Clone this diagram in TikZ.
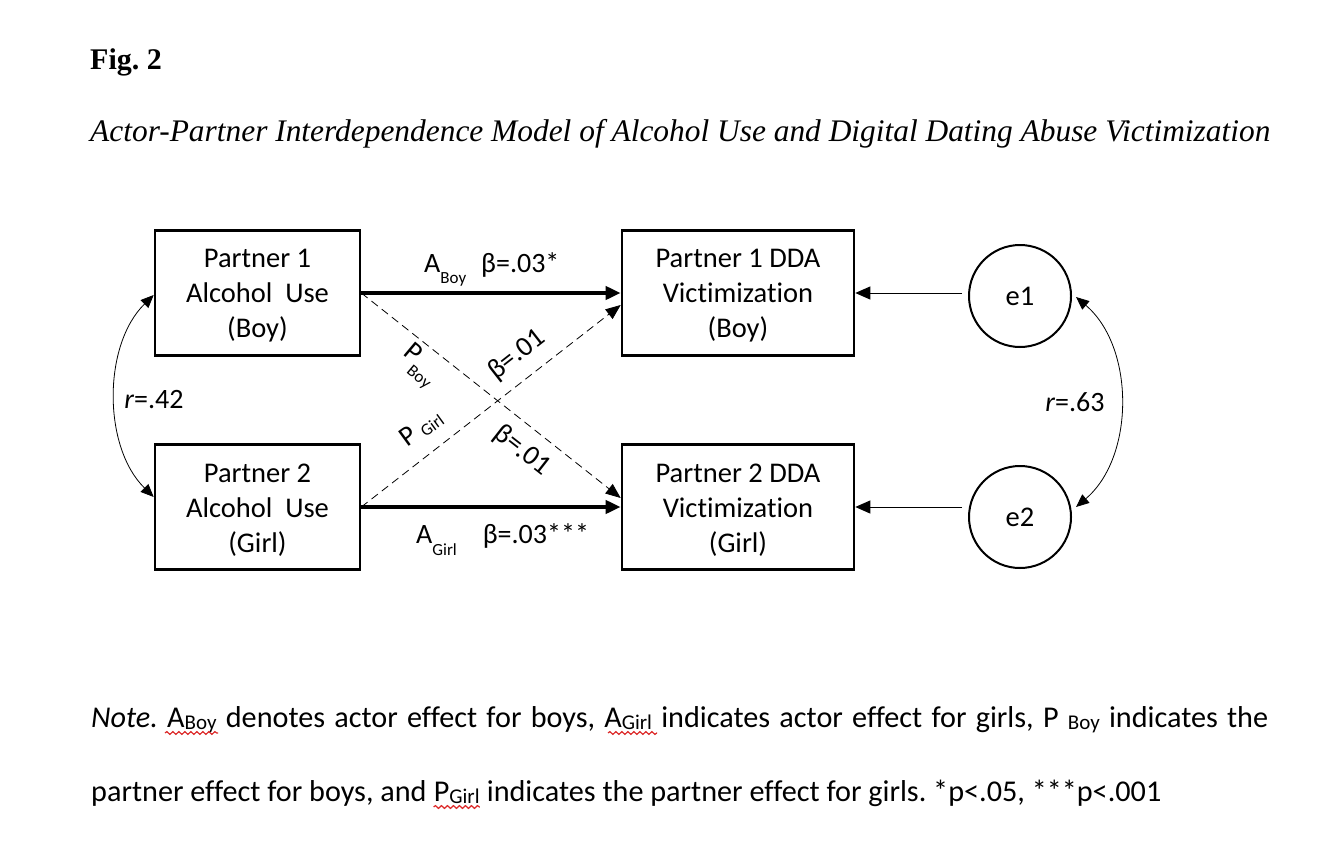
\documentclass[tikz,border=0pt]{standalone}
\usepackage{fontspec}
\setmainfont{Carlito}[Ligatures=NoCommon]
\newfontfamily\timesfont{Liberation Serif}
\usetikzlibrary{arrows.meta,decorations.pathmorphing}
\definecolor{squig}{RGB}{220,40,40}
\newcommand{\bx}{\fontsize{28.5}{35}\selectfont}
\newcommand{\lb}{\fontsize{28}{34}\selectfont}
\newcommand{\subfont}{\fontsize{17}{17}\selectfont}
\newcommand{\nsub}[1]{\raisebox{-2pt}{\fontsize{21}{21}\selectfont #1}}
\frenchspacing
\begin{document}
\begin{tikzpicture}[x=1pt,y=-1pt,
  box/.style={draw, line width=2.6pt, minimum width=205pt, minimum height=125pt, inner sep=0pt},
  dbox/.style={box, minimum width=232pt},
  inbox/.style={label={[font=\bx, align=center, yshift=-3pt]center:{#1}}},
  err/.style={draw, circle, line width=2pt, minimum size=102pt, font=\bx, inner sep=0pt},
  actor/.style={-{Triangle[length=15pt,width=13pt]}, line width=3.8pt},
  partner/.style={-{Triangle[length=15pt,width=12pt]}, line width=0.8pt, dash pattern=on 8pt off 5pt},
  thinarrow/.style={-{Triangle[length=15pt,width=13pt]}, line width=1pt},
  corr/.style={{Triangle[length=13pt,width=11pt]}-{Triangle[length=13pt,width=11pt]}, line width=0.8pt},
  lbl/.style={font=\lb, inner sep=0pt},
  note/.style={anchor=base west, inner sep=0pt, font=\fontsize{30.2}{36}\selectfont},
  squiggle/.style={squig, line width=1.2pt, decorate, decoration={snake, amplitude=1.4pt, segment length=6pt}}
]
\useasboundingbox (0,0) rectangle (1322,856);

% titles
\node[anchor=base west, inner sep=0pt, font=\timesfont\bfseries\fontsize{30}{36}\selectfont] (fig) at (90,70) {Fig. 2};
\node[anchor=base west, inner sep=0pt, font=\timesfont\itshape\fontsize{31.4}{36}\selectfont] (ttl) at (90,142) {Actor-Partner Interdependence Model of Alcohol Use and Digital Dating Abuse Victimization};

% boxes
\node[box, inbox={Partner 1\\Alcohol\ \ Use\\(Boy)}] (a1) at (257.5,293) {};
\node[box, inbox={Partner 2\\Alcohol\ \ Use\\(Girl)}] (a2) at (257.5,507) {};
\node[dbox, inbox={Partner 1 DDA\\Victimization\\(Boy)}] (v1) at (738,293) {};
\node[dbox, inbox={Partner 2 DDA\\Victimization\\(Girl)}] (v2) at (738,507) {};
\node[err] (e1) at (1020,296) {e1};
\node[err] (e2) at (1020,517) {e2};

% actor paths
\draw[actor] (a1.east) -- (v1.west);
\draw[actor] (a2.east) -- (v2.west);
% partner paths
\draw[partner] (a1.east) -- ([yshift=9pt]v2.west);
\draw[partner] (a2.east) -- ([yshift=-12pt]v1.west);
% error paths
\draw[thinarrow] ([xshift=-6pt]e1.west |- v1.east) -- (v1.east);
\draw[thinarrow] ([xshift=-6pt]e2.west |- v2.east) -- (v2.east);
% correlations
\draw[corr] ([yshift=-2pt]a1.west) .. controls +(-51,50) and +(-51,-50) .. ([yshift=10pt]a2.west);
\draw[corr] ([xshift=4pt,yshift=-1pt]e1.east) .. controls +(59,50) and +(59,-50) .. ([xshift=4pt,yshift=10pt]e2.east);

% labels
\node[lbl] (r1) at (154,400) {\textit{r}=.42};
\node[lbl] (r2) at (1075,402) {\textit{r}=.63};
\node[lbl, anchor=base west] (lab) at (424,272) {A\raisebox{-11pt}{\subfont Boy}\hspace{15pt}β=.03*};
\node[lbl, anchor=base west] (lag) at (416,543) {A\raisebox{-12pt}{\subfont Girl}\hspace{26pt}β=.03***};
\node[lbl, rotate=-40] (pb) at (419,366) {P\raisebox{-12pt}{\subfont Boy}};
\node[lbl, rotate=38] (bu) at (517,355) {β=.01};
\node[lbl, rotate=36] (pg) at (421,428) {P \raisebox{-3pt}{\subfont Girl}};
\node[lbl, rotate=-38] (bl) at (522,451) {β=.01};

% note (line 1 justified to the right margin, line 2 ragged)
\node[note] (n1) at (91,727)
  {\makebox[1177pt][s]{\textit{Note.} A\nsub{Boy} denotes actor effect for boys, A\nsub{Girl} indicates actor effect for girls, P\ \nsub{Boy} indicates the}};
\node[note] (n2a) at (91,801) {partner effect for boys, and\ \null};
\node[note] (n2b) at (n2a.base east) {P\nsub{Girl}};
\node[note] (n2c) at (n2b.base east) {\ indicates the partner effect for girls. *p<.05, ***p<.001};
% spelling marks
\draw[squiggle] ([xshift=74pt,yshift=-6pt]n1.base west) -- ([xshift=127pt,yshift=-6pt]n1.base west);
\draw[squiggle] ([xshift=517pt,yshift=-6pt]n1.base west) -- ([xshift=566pt,yshift=-6pt]n1.base west);
\draw[squiggle] ([yshift=-6pt]n2b.base west) -- ([yshift=-6pt]n2b.base east);
\end{tikzpicture}
\end{document}
